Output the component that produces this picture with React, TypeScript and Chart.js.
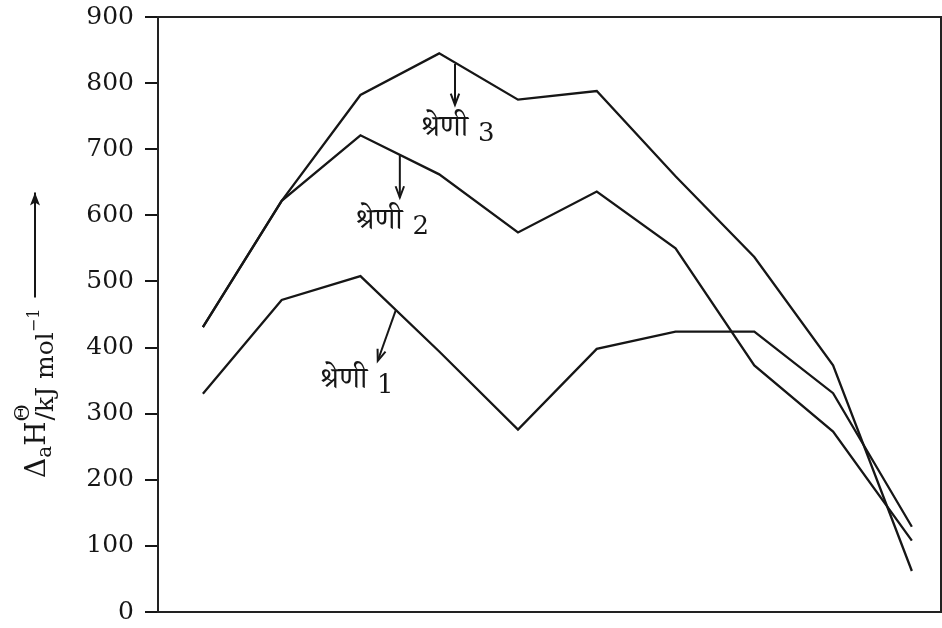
import React, { useEffect, useRef } from "react";
import { Chart, registerables } from "chart.js";

Chart.register(...registerables);

// ---- data ----
const elements = ["Sc", "Ti", "V", "Cr", "Mn", "Fe", "Co", "Ni", "Cu", "Zn"];
const series1 = [330, 472, 508, 394, 276, 398, 424, 424, 331, 129];
const series2 = [431, 622, 721, 662, 574, 636, 550, 373, 273, 108];
const series3 = [431, 622, 782, 845, 775, 788, 659, 537, 373, 62];
const seriesNames = ["श्रेणी 1", "श्रेणी 2", "श्रेणी 3"];
const yTicks = [0, 100, 200, 300, 400, 500, 600, 700, 800, 900];

// callout placement (in data units)
const callouts = [
  { name: seriesNames[0], tx: 1.94, ty: 343, x1: 2.45, y1: 457, x2: 2.22, y2: 380 },
  { name: seriesNames[1], tx: 2.39, ty: 584, x1: 2.5, y1: 691, x2: 2.5, y2: 627 },
  { name: seriesNames[2], tx: 3.22, ty: 724, x1: 3.2, y1: 829, x2: 3.2, y2: 767 },
];

const INK = "#161616";
const SERIF = "'DejaVu Serif', 'Liberation Serif', serif";
const DEVA = "'Noto Serif Devanagari', 'Noto Sans Devanagari', 'Lohit Devanagari', 'DejaVu Serif', serif";

const toPoints = (vals: number[]) => vals.map((v, i) => ({ x: i, y: v }));

const extras = {
  id: "extras",
  afterDraw(chart: any) {
    const { ctx, chartArea, scales } = chart;
    const xs = scales.x;
    const ys = scales.y;
    ctx.save();
    // frame
    ctx.strokeStyle = "#222";
    ctx.lineWidth = 2;
    ctx.strokeRect(chartArea.left, chartArea.top, chartArea.right - chartArea.left, chartArea.bottom - chartArea.top);

    // callouts
    ctx.strokeStyle = INK;
    ctx.fillStyle = INK;
    ctx.lineWidth = 2;
    callouts.forEach((c) => {
      const px1 = xs.getPixelForValue(c.x1);
      const py1 = ys.getPixelForValue(c.y1);
      const px2 = xs.getPixelForValue(c.x2);
      const py2 = ys.getPixelForValue(c.y2);
      ctx.beginPath();
      ctx.moveTo(px1, py1);
      ctx.lineTo(px2, py2);
      ctx.stroke();
      const ang = Math.atan2(py2 - py1, px2 - px1);
      const hl = 12;
      const spread = 0.36;
      ctx.beginPath();
      ctx.moveTo(px2 - hl * Math.cos(ang - spread), py2 - hl * Math.sin(ang - spread));
      ctx.lineTo(px2, py2);
      ctx.lineTo(px2 - hl * Math.cos(ang + spread), py2 - hl * Math.sin(ang + spread));
      ctx.stroke();
      const tx = xs.getPixelForValue(c.tx);
      const ty = ys.getPixelForValue(c.ty);
      const parts = c.name.split(" ");
      ctx.textBaseline = "middle";
      ctx.font = `30px ${DEVA}`;
      const w1 = ctx.measureText(parts[0] + " ").width;
      ctx.font = `26px ${SERIF}`;
      const w2 = ctx.measureText(parts[1]).width;
      const start = tx - (w1 + w2) / 2;
      ctx.textAlign = "left";
      ctx.font = `30px ${DEVA}`;
      ctx.fillText(parts[0] + " ", start, ty);
      ctx.font = `26px ${SERIF}`;
      ctx.fillText(parts[1], start + w1 + 2, ty + 1);
    });

    // y-axis title
    ctx.translate(45, 478);
    ctx.rotate(-Math.PI / 2);
    ctx.textAlign = "left";
    ctx.textBaseline = "alphabetic";
    let x = 0;
    const piece = (t: string, size: number, dy: number) => {
      ctx.font = `${size}px ${SERIF}`;
      ctx.fillText(t, x, dy);
      x += ctx.measureText(t).width;
    };
    piece("Δ", 28, 0);
    piece("a", 20, 6);
    piece("H", 28, 0);
    const tX = x;
    piece("Θ", 21, -16);
    x = tX + 1;
    piece("/kJ mol", 25, 8);
    piece("−1", 16, -6);
    x += 11;
    const ax0 = x;
    const ax1 = x + 105;
    const ay = -10;
    ctx.lineWidth = 2;
    ctx.beginPath();
    ctx.moveTo(ax0, ay);
    ctx.lineTo(ax1, ay);
    ctx.stroke();
    ctx.beginPath();
    ctx.moveTo(ax1, ay);
    ctx.lineTo(ax1 - 13, ay - 5);
    ctx.lineTo(ax1 - 10, ay);
    ctx.lineTo(ax1 - 13, ay + 5);
    ctx.closePath();
    ctx.fill();
    ctx.restore();
  },
};

export default function App() {
  const ref = useRef<HTMLCanvasElement | null>(null);
  useEffect(() => {
    if (!ref.current) return;
    const mk = (vals: number[], label: string) => ({
      label,
      data: toPoints(vals),
      borderColor: INK,
      borderWidth: 2.3,
      pointRadius: 0,
      tension: 0,
      fill: false,
    });
    const chart = new Chart(ref.current, {
      type: "line",
      data: {
        labels: elements,
        datasets: [mk(series1, seriesNames[0]), mk(series2, seriesNames[1]), mk(series3, seriesNames[2])],
      },
      options: {
        animation: false,
        responsive: false,
        events: [],
        layout: { padding: { top: 17, right: 1, bottom: 16, left: 0 } },
        plugins: { legend: { display: false }, tooltip: { enabled: false } },
        scales: {
          x: {
            type: "linear",
            display: false,
            min: -0.57,
            max: elements.length - 1 + 0.37,
          },
          y: {
            type: "linear",
            min: yTicks[0],
            max: yTicks[yTicks.length - 1],
            afterFit: (s: any) => {
              s.width = 158;
              s.paddingTop = 0;
              s.paddingBottom = 0;
            },
            afterBuildTicks: (s: any) => {
              s.ticks = yTicks.map((v) => ({ value: v }));
            },
            ticks: {
              color: INK,
              font: { family: SERIF, size: 25 },
              padding: 11,
            },
            grid: {
              display: true,
              drawOnChartArea: false,
              drawTicks: true,
              tickLength: 13,
              color: INK,
              lineWidth: 2,
            },
            border: { display: false },
          },
        },
      },
      plugins: [extras],
    } as any);
    return () => chart.destroy();
  }, []);
  return (
    <div style={{ position: "absolute", left: 0, top: 0, width: 942, height: 628, background: "#fff" }}>
      <canvas ref={ref} width={942} height={628} style={{ display: "block" }} />
    </div>
  );
}
